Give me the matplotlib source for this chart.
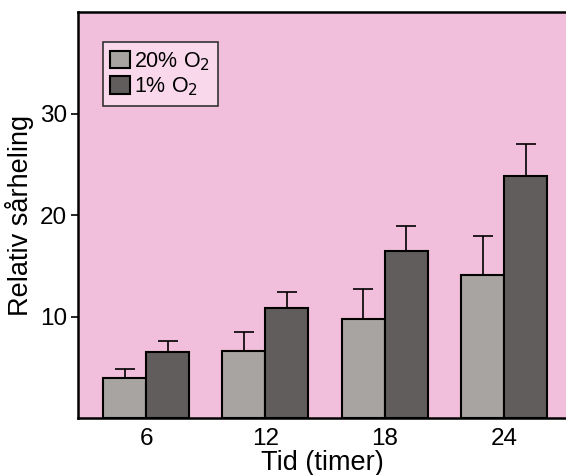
import matplotlib.pyplot as plt
import numpy as np

# timer
hours = [6, 12, 18, 24]
tick_labels = ['6', '12', '18', '24']
# relativ sårheling
mean_20 = [3.9, 6.6, 9.8, 14.1]
err_20 = [0.9, 1.9, 2.9, 3.8]
mean_1 = [6.5, 10.8, 16.5, 23.8]
err_1 = [1.1, 1.6, 2.4, 3.2]
labels = ['20% O$_2$', '1% O$_2$']

plt.rcParams['font.family'] = ['Liberation Sans', 'DejaVu Sans']

fig = plt.figure(figsize=(5.66, 4.75), dpi=100)
ax = fig.add_axes([78 / 566, 57 / 475, 1 - 78 / 566, 406 / 475])
ax.set_facecolor('#f1bfdb')

x = np.array(hours, dtype=float)
w = 2.16
ax.bar(x - w / 2, mean_20, w, color='#a7a4a1', edgecolor='black', linewidth=1.5,
       label=labels[0], zorder=2)
ax.bar(x + w / 2, mean_1, w, color='#615d5c', edgecolor='black', linewidth=1.5,
       label=labels[1], zorder=2)
ax.errorbar(x - w / 2, mean_20, yerr=[np.zeros(4), err_20], fmt='none',
            ecolor='black', elinewidth=1.2, capsize=7, capthick=1.2, zorder=1)
ax.errorbar(x + w / 2, mean_1, yerr=[np.zeros(4), err_1], fmt='none',
            ecolor='black', elinewidth=1.2, capsize=7, capthick=1.2, zorder=1)

ax.set_xlim(2.58, 27.1)
ax.set_ylim(0, 40)
ax.set_yticks([10, 20, 30])
ax.set_xticks(hours)
ax.set_xticklabels(tick_labels)
ax.tick_params(axis='y', labelsize=17.5, length=5, width=1.2, pad=3)
ax.tick_params(axis='x', labelsize=17.5, length=0, pad=7)
ax.spines['right'].set_visible(False)
for s in ['left', 'top', 'bottom']:
    ax.spines[s].set_linewidth(1.8)

ax.set_xlabel('Tid (timer)', fontsize=19.5, labelpad=0)
ax.set_ylabel('Relativ sårheling', fontsize=19.5, labelpad=4)

leg = ax.legend(loc='upper left', bbox_to_anchor=(0.051, 0.925), fontsize=15.5,
                frameon=True, fancybox=False, handlelength=0.9, handleheight=0.9,
                handletextpad=0.2, labelspacing=0.15, borderpad=0.35,
                borderaxespad=0)
leg.get_frame().set_facecolor('#f8d8ea')
leg.get_frame().set_edgecolor('#333333')
leg.get_frame().set_linewidth(1.2)
leg.get_frame().set_alpha(1)

fig.savefig('out.png', dpi=100)
